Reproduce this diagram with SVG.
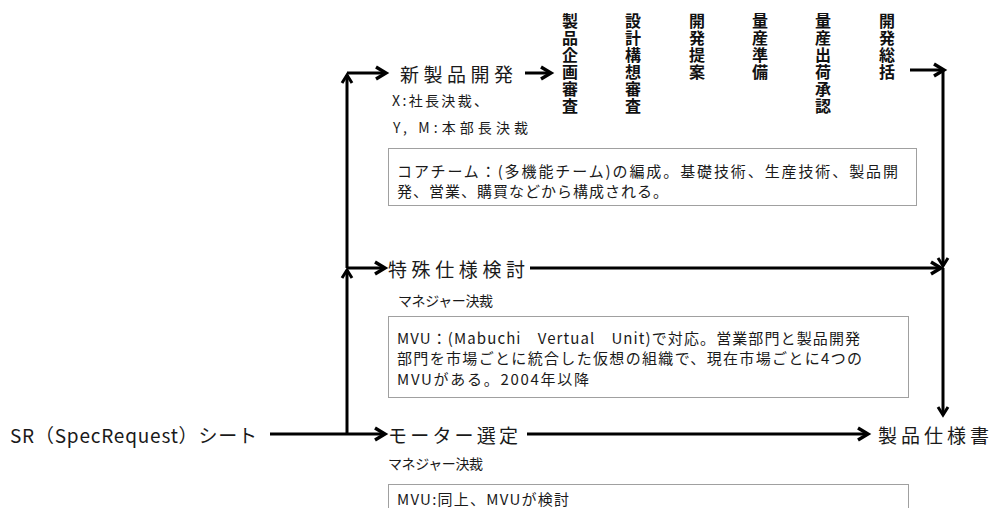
<svg xmlns="http://www.w3.org/2000/svg" width="991" height="508" viewBox="0 0 991 508">
<style>
.t{font-family:"Noto Sans CJK JP","Noto Sans",sans-serif;fill:#1a1a1a;dominant-baseline:central}
.big{font-size:19px}
.sm{font-size:14px}
.bt{font-size:15px}
.v{font-family:"Noto Sans CJK JP","Noto Sans",sans-serif;fill:#111;font-size:16px;font-weight:600;writing-mode:vertical-rl;letter-spacing:1px}
.bx{fill:#fff;stroke:#a0a0a0;stroke-width:1}
.c{stroke:#000;stroke-width:3;fill:none}
</style>
<defs>
<marker id="ah" markerUnits="userSpaceOnUse" markerWidth="18" markerHeight="18" refX="14" refY="9" orient="auto">
<path d="M4,3 L14,9 L4,15" fill="none" stroke="#000" stroke-width="3.4"/>
</marker>
<marker id="av" markerUnits="userSpaceOnUse" markerWidth="14" markerHeight="14" refX="11" refY="7" orient="auto">
<path d="M3,2 L11,7 L3,12" fill="none" stroke="#000" stroke-width="3"/>
</marker>
</defs>

<g id="connectors">
<line class="c" x1="270" y1="434" x2="347" y2="434"/>
<line class="c" x1="347" y1="434" x2="347" y2="270" marker-end="url(#av)"/>
<line class="c" x1="347" y1="268" x2="347" y2="75" marker-end="url(#av)"/>
<polyline class="c" points="347,73 386,73" marker-end="url(#ah)"/>
<line class="c" x1="347" y1="268" x2="385" y2="268" marker-end="url(#ah)"/>
<line class="c" x1="347" y1="434" x2="385" y2="434" marker-end="url(#ah)"/>
<line class="c" x1="525" y1="73" x2="551" y2="73" marker-end="url(#ah)"/>
<line class="c" x1="910" y1="70" x2="944" y2="70" marker-end="url(#ah)"/>
<line class="c" x1="943" y1="70" x2="943" y2="266" marker-end="url(#av)"/>
<line class="c" x1="943" y1="268" x2="943" y2="415" marker-end="url(#av)"/>
<line class="c" x1="530" y1="268" x2="941" y2="268" marker-end="url(#ah)"/>
<line class="c" x1="527" y1="434" x2="868" y2="434" marker-end="url(#ah)"/>
</g>

<g id="sr"><text class="t big" x="10" y="434" textLength="247" lengthAdjust="spacing">SR（SpecRequest）シート</text></g>

<g id="shinseihin">
<text class="t big" x="400" y="73" textLength="113" lengthAdjust="spacing">新製品開発</text>
<text class="t sm" x="392" y="100" textLength="96" lengthAdjust="spacing">X:社長決裁、</text>
<text class="t sm" x="393" y="127" textLength="135" lengthAdjust="spacing">Y, M:本部長決裁</text>
</g>

<g id="stages">
<text class="v" x="570" y="13">製品企画審査</text>
<text class="v" x="633" y="13">設計構想審査</text>
<text class="v" x="697" y="13">開発提案</text>
<text class="v" x="760" y="13">量産準備</text>
<text class="v" x="823" y="13">量産出荷承認</text>
<text class="v" x="887" y="13">開発総括</text>
</g>

<g id="box1">
<rect class="bx" x="388.5" y="148.5" width="528" height="57"/>
<text class="t bt" x="397" y="170" textLength="501" lengthAdjust="spacing">コアチーム：(多機能チーム)の編成。基礎技術、生産技術、製品開</text>
<text class="t bt" x="397" y="190" textLength="271" lengthAdjust="spacing">発、営業、購買などから構成される。</text>
</g>

<g id="tokushu">
<text class="t big" x="388" y="268" textLength="137" lengthAdjust="spacing">特殊仕様検討</text>
<text class="t sm" x="398" y="300" textLength="95" lengthAdjust="spacing">マネジャー決裁</text>
</g>

<g id="box2">
<rect class="bx" x="388.5" y="316.5" width="520" height="81"/>
<text class="t bt" x="397" y="337" textLength="463" lengthAdjust="spacing">MVU：(Mabuchi　Vertual　Unit)で対応。営業部門と製品開発</text>
<text class="t bt" x="397" y="357" textLength="465" lengthAdjust="spacing">部門を市場ごとに統合した仮想の組織で、現在市場ごとに4つの</text>
<text class="t bt" x="397" y="378" textLength="192" lengthAdjust="spacing">MVUがある。2004年以降</text>
</g>

<g id="motor">
<text class="t big" x="388" y="434" textLength="130" lengthAdjust="spacing">モーター選定</text>
<text class="t sm" x="388" y="463" textLength="95" lengthAdjust="spacing">マネジャー決裁</text>
</g>

<g id="box3">
<rect class="bx" x="388.5" y="484.5" width="520" height="30"/>
<text class="t bt" x="397" y="498" textLength="172" lengthAdjust="spacing">MVU:同上、MVUが検討</text>
</g>

<g id="spec"><text class="t big" x="878" y="434" textLength="111" lengthAdjust="spacing">製品仕様書</text></g>
</svg>
